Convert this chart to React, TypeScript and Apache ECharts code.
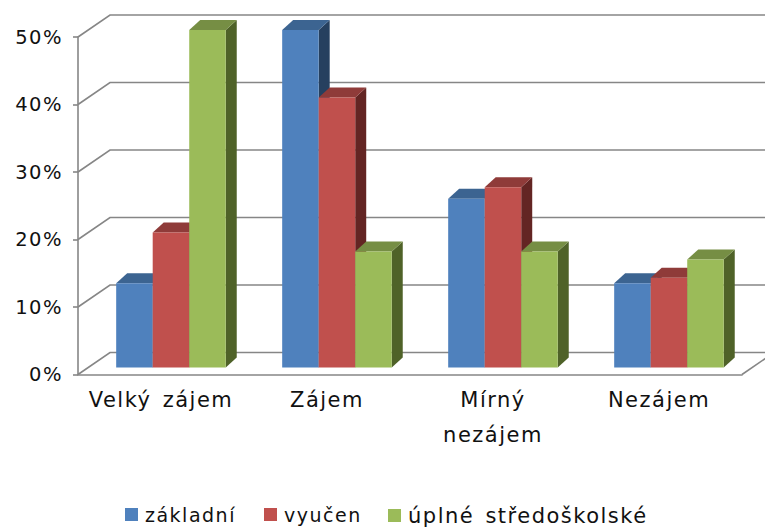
import React, { useEffect, useRef } from "react";
import * as echarts from "echarts";

const categories = ["Velký zájem", "Zájem", "Mírný\nnezájem", "Nezájem"];
const zakladni = [12.5, 50, 25, 12.5];
const vyucen = [20, 40, 26.7, 13.3];
const uplne = [50, 17.2, 17.2, 16];
const gridValues = [0, 10, 20, 30, 40, 50];

const FONT = "DejaVu Sans";
const AXIS = "#868686";
const WALL_DX = 32;
const WALL_DY = -22;
const BAR_DY = -7;
const DEPTH_X = 11;
const DEPTH_Y = -10;

const barRenderer = (slot: number, front: string, top: string, side: string) => (params: any, api: any) => {
  const cat = api.value(0);
  const val = api.value(1);
  const step = api.size([1, 0])[0];
  const base = api.coord([cat, 0]);
  const head = api.coord([cat, val]);
  const w = step * 0.22;
  const x0 = base[0] - step * 0.27 + slot * w;
  const x1 = x0 + w;
  const y0 = base[1] + BAR_DY;
  const y1 = head[1] + BAR_DY;
  return {
    type: "group",
    children: [
      {
        type: "polygon",
        shape: { points: [[x1, y1], [x1 + DEPTH_X, y1 + DEPTH_Y], [x1 + DEPTH_X, y0 + DEPTH_Y], [x1, y0]] },
        style: { fill: side },
      },
      {
        type: "polygon",
        shape: { points: [[x0, y1], [x0 + DEPTH_X, y1 + DEPTH_Y], [x1 + DEPTH_X, y1 + DEPTH_Y], [x1, y1]] },
        style: { fill: top },
      },
      { type: "rect", shape: { x: x0, y: y1, width: x1 - x0, height: y0 - y1 }, style: { fill: front } },
    ],
  };
};

const gridRenderer = (params: any, api: any) => {
  const val = api.value(0);
  const cs = params.coordSys;
  const y = api.coord([0, val])[1];
  const left = cs.x;
  const right = cs.x + cs.width;
  const children: any[] = [
    {
      type: "polyline",
      shape: { points: [[left, y], [left + WALL_DX, y + WALL_DY], [right + WALL_DX, y + WALL_DY]] },
      style: { fill: "none", stroke: AXIS, lineWidth: 1.6 },
    },
  ];
  if (val === 0) {
    children.push({
      type: "line",
      shape: { x1: right, y1: y, x2: right + WALL_DX, y2: y + WALL_DY },
      style: { stroke: AXIS, lineWidth: 1.6 },
    });
  }
  return { type: "group", children };
};

const barSeries = (name: string, values: number[], slot: number, front: string, top: string, side: string) => ({
  type: "custom",
  name,
  itemStyle: { color: front },
  clip: false,
  z: 5,
  encode: { x: 0, y: 1 },
  data: values.map((v, i) => [i, v]),
  renderItem: barRenderer(slot, front, top, side),
});

const legendItem = (name: string, left: number, fontSize: number) => ({
  left,
  top: 505,
  padding: 0,
  icon: "rect",
  itemWidth: 13,
  itemHeight: 13,
  data: [name],
  textStyle: { color: "#111", fontFamily: FONT, fontSize, padding: [0, 0, 0, 2] },
});

export default function App() {
  const ref = useRef<HTMLDivElement>(null);
  useEffect(() => {
    const chart = echarts.init(ref.current!, undefined, { renderer: "svg" });
    chart.setOption({
      animation: false,
      backgroundColor: "#ffffff",
      grid: { left: 78, right: 23, top: 37, bottom: 154.5 },
      textStyle: { fontFamily: FONT },
      xAxis: {
        type: "category",
        data: categories,
        axisLine: { lineStyle: { color: AXIS, width: 1.6 } },
        axisTick: { alignWithLabel: false, length: 5, lineStyle: { color: AXIS, width: 1.6 } },
        axisLabel: { color: "#111", fontFamily: FONT, fontSize: 21, lineHeight: 35, margin: 8, interval: 0 },
      },
      yAxis: {
        type: "value",
        min: 0,
        max: 50,
        interval: 10,
        axisLine: { show: true, lineStyle: { color: AXIS, width: 1.6 } },
        axisTick: { show: true, length: 5, lineStyle: { color: AXIS, width: 1.6 } },
        splitLine: { show: false },
        axisLabel: { color: "#111", fontFamily: FONT, fontSize: 19.5, margin: 15, formatter: "{value}%" },
      },
      legend: [
        legendItem("základní", 125, 19),
        legendItem("vyučen", 264, 19),
        legendItem("úplné středoškolské", 388, 21),
      ],
      series: [
        {
          type: "custom",
          name: "grid",
          clip: false,
          silent: true,
          z: 1,
          encode: { y: 0 },
          data: gridValues.map((v) => [v]),
          renderItem: gridRenderer,
        },
        barSeries("základní", zakladni, 0, "#4F81BD", "#3C6491", "#26405F"),
        barSeries("vyučen", vyucen, 1, "#C0504D", "#8F3B39", "#632523"),
        barSeries("úplné středoškolské", uplne, 2, "#9BBB59", "#768E44", "#4F6228"),
      ],
    });
    return () => chart.dispose();
  }, []);
  return (
    <div
      ref={ref}
      style={{ position: "fixed", left: 0, top: 0, width: 765, height: 529, letterSpacing: "1.5px", wordSpacing: "3px" }}
    />
  );
}
